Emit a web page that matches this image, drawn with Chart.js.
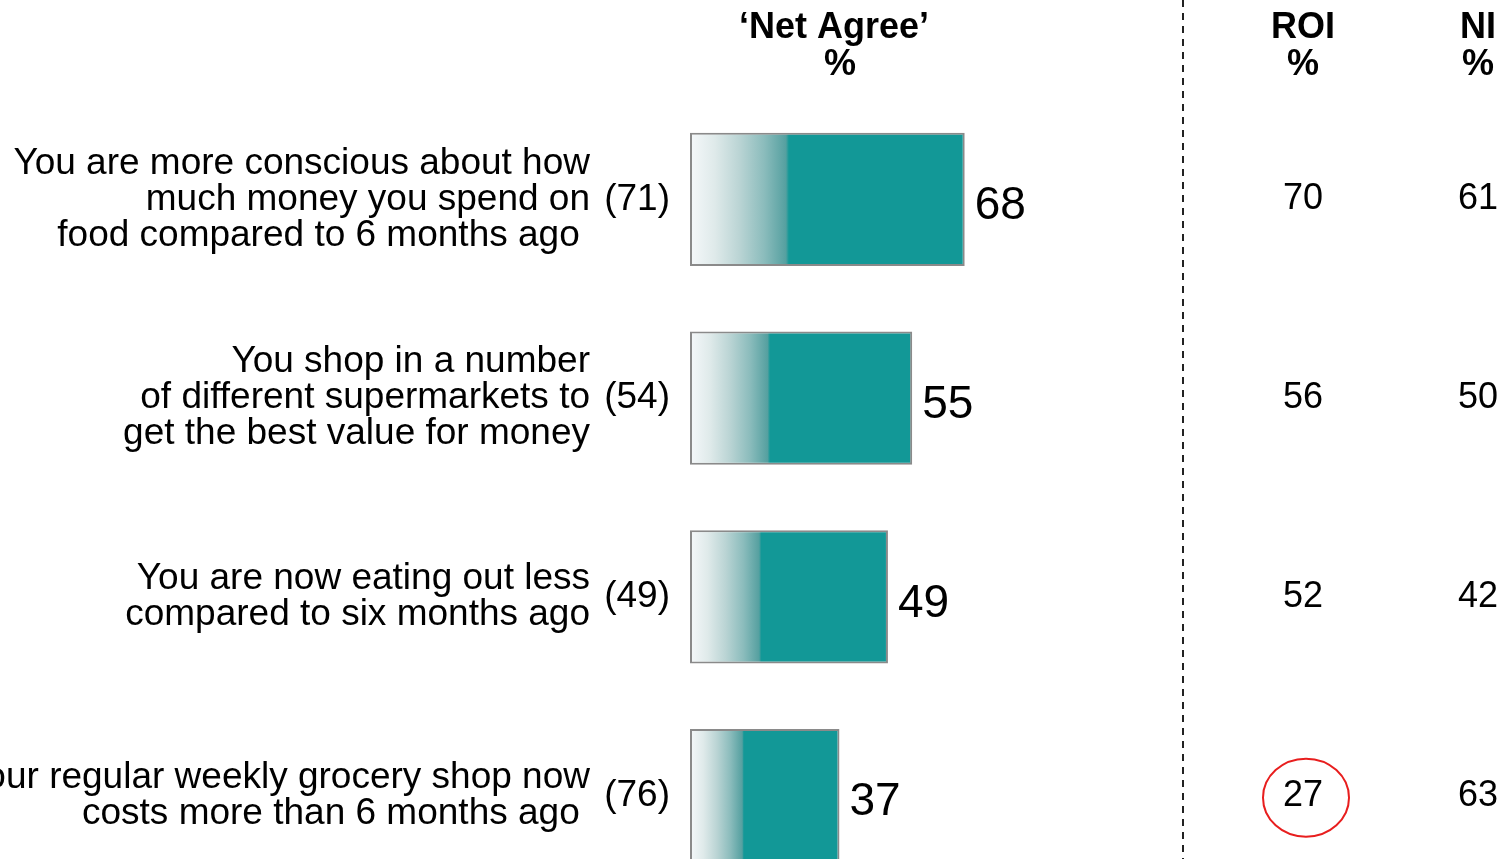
<!DOCTYPE html>
<html>
<head>
<meta charset="utf-8">
<title>Net Agree</title>
<script src="https://cdn.jsdelivr.net/npm/chart.js@4.4.1/dist/chart.umd.min.js"></script>
<style>
  html, body { margin: 0; padding: 0; background: #fff; overflow: hidden; }
  canvas { display: block; }
</style>
</head>
<body>
<canvas id="chart" width="1501" height="900"></canvas>
<script>
// statements, one row each
const categories = [
  ['You are more conscious about how', 'much money you spend on', 'food compared to 6 months ago '],
  ['You shop in a number', 'of different supermarkets to', 'get the best value for money'],
  ['You are now eating out less', 'compared to six months ago'],
  ['Your regular weekly grocery shop now', 'costs more than 6 months ago ']
];
const netAgree = [68, 55, 49, 37];   // bars
const previous = [71, 54, 49, 76];   // figures in brackets
const roi = [70, 56, 52, 27];
const ni = [61, 50, 42, 63];
const roiCircled = [3];              // rows whose ROI figure gets ringed

const FONT = '"Liberation Sans", Arial, Helvetica, sans-serif';
const TEAL = '#129897';
const LINE = 36;

// left part of each bar fades in from white
function barFill(context) {
  const chart = context.chart;
  const xs = chart.scales.x;
  if (!xs || context.raw == null) return TEAL;
  const x0 = xs.getPixelForValue(0);
  const x1 = xs.getPixelForValue(context.raw);
  if (!Number.isFinite(x0) || !Number.isFinite(x1) || x1 <= x0) return TEAL;
  const g = chart.ctx.createLinearGradient(x0, 0, x1, 0);
  const f = 0.36;
  g.addColorStop(0, '#f5f8fa');
  g.addColorStop(f * 0.25, '#dfeaea');
  g.addColorStop(f * 0.5, '#bad4d4');
  g.addColorStop(f * 0.75, '#8bbcbc');
  g.addColorStop(f * 0.97, '#55a0a0');
  g.addColorStop(f, TEAL);
  g.addColorStop(1, TEAL);
  return g;
}

const extras = {
  id: 'extras',
  afterDraw(chart) {
    const { ctx, scales: { x, y } } = chart;
    const bars = chart.getDatasetMeta(0).data;
    ctx.save();
    ctx.fillStyle = '#000';
    ctx.textBaseline = 'middle';

    // column headers
    ctx.font = `bold 36px ${FONT}`;
    ctx.textAlign = 'center';
    ctx.fillText('\u2018Net Agree\u2019', 834, 28);
    ctx.fillText('%', 840, 65);
    ctx.fillText('ROI', 1303, 28);
    ctx.fillText('%', 1303, 65);
    ctx.fillText('NI', 1478, 28);
    ctx.fillText('%', 1478, 65);

    categories.forEach((lines, i) => {
      const cy = y.getPixelForValue(i);
      ctx.font = `37px ${FONT}`;
      ctx.textAlign = 'right';
      const top = cy - (lines.length - 1) * LINE / 2;
      lines.forEach((t, k) => ctx.fillText(t, x.left - 100, top + k * LINE));
      ctx.fillText(`(${previous[i]})`, x.left - 20, cy);

      ctx.font = `36px ${FONT}`;
      ctx.textAlign = 'center';
      ctx.fillText(String(roi[i]), 1303, cy);
      ctx.fillText(String(ni[i]), 1478, cy);

      // value at the end of the bar
      ctx.font = `46px ${FONT}`;
      ctx.textAlign = 'left';
      ctx.fillText(String(netAgree[i]), bars[i].x + 10, bars[i].y + 7);
    });

    // divider between total and regions
    ctx.strokeStyle = '#222';
    ctx.lineWidth = 2;
    ctx.setLineDash([7, 6]);
    ctx.beginPath();
    ctx.moveTo(1183, 0);
    ctx.lineTo(1183, chart.height);
    ctx.stroke();
    ctx.setLineDash([]);

    ctx.strokeStyle = '#e81e1e';
    ctx.lineWidth = 2;
    roiCircled.forEach(i => {
      ctx.beginPath();
      ctx.ellipse(1306, y.getPixelForValue(i) + 2, 43, 39, 0, 0, Math.PI * 2);
      ctx.stroke();
    });
    ctx.restore();
  }
};

new Chart(document.getElementById('chart'), {
  type: 'bar',
  data: {
    labels: categories,
    datasets: [{
      data: netAgree,
      backgroundColor: barFill,
      borderColor: '#8a8a8a',
      borderWidth: 2,
      borderSkipped: false,
      categoryPercentage: 0.67,
      barPercentage: 1
    }]
  },
  options: {
    indexAxis: 'y',
    responsive: false,
    animation: false,
    devicePixelRatio: 1,
    layout: { padding: { left: 690, right: 407, top: 100, bottom: 5 } },
    plugins: { legend: { display: false }, tooltip: { enabled: false } },
    scales: {
      x: { min: 0, max: 100, display: false },
      y: { display: false }
    }
  },
  plugins: [extras]
});
</script>
</body>
</html>
